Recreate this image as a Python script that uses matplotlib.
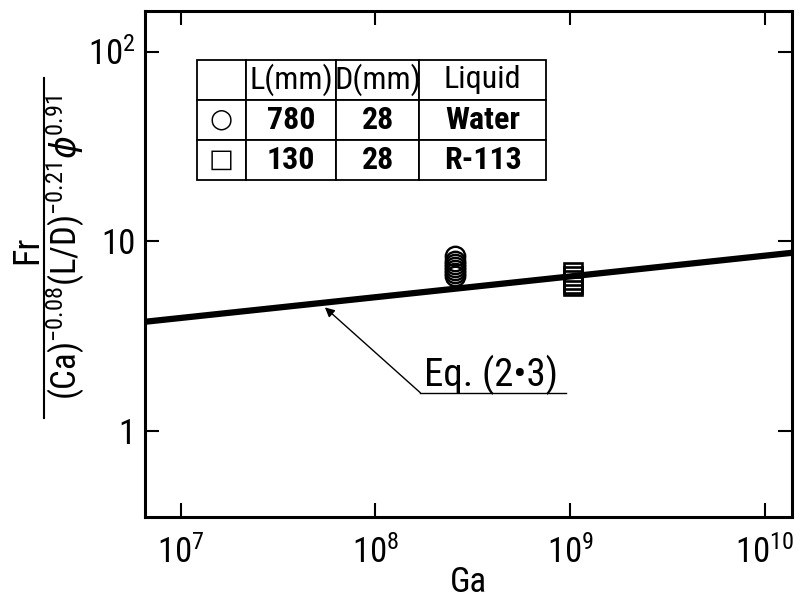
import matplotlib
matplotlib.use('Agg')
import matplotlib.pyplot as plt
import numpy as np
from matplotlib import font_manager
from matplotlib.ticker import FixedLocator, FixedFormatter, NullLocator

# narrow sans face if one is installed
names = set(f.name for f in font_manager.fontManager.ttflist)
fam = 'Liberation Sans'
for cand in ['Liberation Sans Narrow', 'DejaVu Sans Condensed', 'Roboto Condensed']:
    if cand in names:
        fam = cand
        break
narrow = fam != 'Liberation Sans'
plt.rcParams['font.family'] = [fam, 'DejaVu Sans']
plt.rcParams['mathtext.default'] = 'regular'

fs = 25 if narrow else 22

# correlation line, Eq. (2-3)
eq_ga = [6.55e6, 1.38e10]
eq_y = [3.78, 8.72]

# water, L = 780 mm
ga_water = [2.55e8] * 7
y_water = [8.4, 7.9, 7.6, 7.3, 7.1, 6.8, 6.6]

# R-113, L = 130 mm
ga_r113 = [1.03e9] * 5
y_r113 = [6.9, 6.6, 6.3, 6.0, 5.85]

table_cells = [['', 'L(mm)', 'D(mm)', 'Liquid'],
               ['○', '780', '28', 'Water'],
               ['□', '130', '28', 'R-113']]

xticks = [1e7, 1e8, 1e9, 1e10]
xlabels = ['$10^7$', '$10^8$', '$10^9$', '$10^{10}$']
yticks = [1, 10, 100]
ylabels = ['1', '10', '$10^2$']

fig = plt.figure(figsize=(8.05, 5.97), dpi=100)
ax = fig.add_axes([145 / 805, 1 - 516.7 / 597, 647 / 805, 506 / 597])
ax.set_xscale('log')
ax.set_yscale('log')
ax.set_xlim(6.55e6, 1.38e10)
ax.set_ylim(0.356, 164)

ax.plot(eq_ga, eq_y, color='k', lw=4.5, solid_capstyle='butt', zorder=2)
ax.plot(ga_water, y_water, ls='none', marker='o', ms=14, mfc='none',
        mec='k', mew=1.7, zorder=3)
ax.plot(ga_r113, y_r113, ls='none', marker='s', ms=12.5, mfc='none',
        mec='k', mew=1.9, zorder=3)

# leader to the line
ax.annotate('', xy=(5.5e7, 4.5), xytext=(1.70e8, 1.60),
            arrowprops=dict(arrowstyle='-|>', color='k', lw=1.0,
                            mutation_scale=14, shrinkA=0, shrinkB=0))
ax.plot([1.70e8, 9.5e8], [1.60, 1.60], color='k', lw=1.0)
ax.text(1.77e8, 1.74, 'Eq. (2•3)', fontsize=fs + 3, va='baseline', ha='left')

ax.xaxis.set_major_locator(FixedLocator(xticks))
ax.xaxis.set_major_formatter(FixedFormatter(xlabels))
ax.yaxis.set_major_locator(FixedLocator(yticks))
ax.yaxis.set_major_formatter(FixedFormatter(ylabels))
ax.xaxis.set_minor_locator(NullLocator())
ax.yaxis.set_minor_locator(NullLocator())
ax.tick_params(which='major', direction='in', length=10, width=1.5,
               top=True, right=True, labelsize=fs)
ax.tick_params(axis='x', pad=13)
ax.tick_params(axis='y', pad=7)
for s in ax.spines.values():
    s.set_linewidth(2.2)

ax.set_xlabel('Ga', fontsize=fs)
ax.xaxis.set_label_coords(0.5, -(582 - 516.7) / 506)
ax.xaxis.label.set_va('center')

# table of conditions
tb = ax.table(cellText=table_cells, cellLoc='center',
              bbox=[0.0799, 0.6654, 0.5401, 0.2372],
              colWidths=[49.3, 90, 83.3, 126.7])
tb.auto_set_font_size(False)
for (r, c), cell in tb.get_celld().items():
    cell.set_linewidth(1.3)
    cell.set_edgecolor('k')
    t = cell.get_text()
    t.set_fontsize(fs - 2)
    if r > 0 and c > 0:
        t.set_fontweight('bold')
    if c == 0:
        t.set_fontsize(fs - 6)

# y label as a stacked fraction
fig.text(27 / 805, 1 - 250 / 597, 'Fr', rotation=90, fontsize=fs + 1,
         ha='center', va='center')
fig.text(66 / 805, 1 - 248 / 597,
         r'(Ca)$^{-0.08}$(L/D)$^{-0.21}$$\it{\phi}$$^{0.91}$',
         rotation=90, fontsize=fs, ha='center', va='center')
fig.add_artist(plt.Line2D([44 / 805, 44 / 805], [1 - 78 / 597, 1 - 418 / 597],
                          color='k', lw=1.5, transform=fig.transFigure))

fig.savefig('out.png', dpi=100)
